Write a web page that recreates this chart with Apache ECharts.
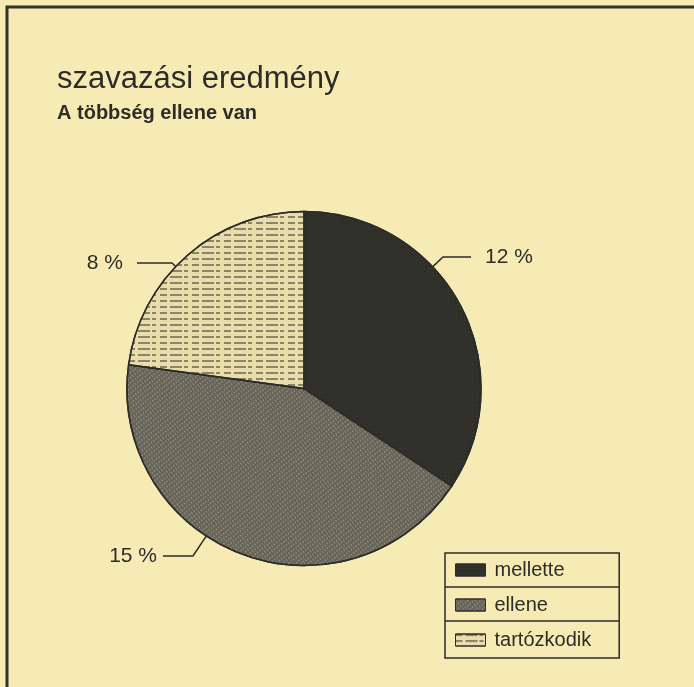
<!DOCTYPE html>
<html>
<head>
<meta charset="utf-8">
<script src="https://cdn.jsdelivr.net/npm/echarts@6/dist/echarts.min.js"></script>
<style>
  html, body { margin: 0; padding: 0; background: #f6eab5; }
  #chart { width: 694px; height: 687px; }
</style>
</head>
<body>
<div id="chart"></div>
<script>
// ---- data ----
const categories = ['mellette', 'ellene', 'tartózkodik'];
const values = [12, 15, 8];
const titleText = 'szavazási eredmény';
const subtitleText = 'A többség ellene van';

// ---- styles (not data) ----
const INK = '#2c2c28';
const PIE_CENTER = [304, 388.5];
const PIE_RADIUS = 177;
const sliceColors = ['#30302b', '#67645a', '#e9ddab'];
const sliceDecals = [
  { symbol: 'rect', symbolSize: 0.6, color: 'rgba(190,185,160,0.28)', dashArrayX: [[1, 3]], dashArrayY: [1, 3], rotation: 0 },
  { symbol: 'rect', symbolSize: 0.8, color: 'rgba(225,218,180,0.5)', dashArrayX: [[2, 2]], dashArrayY: [1, 2], rotation: 0.9 },
  { symbol: 'rect', symbolSize: 1, color: 'rgba(60,58,50,0.55)', dashArrayX: [[7, 3, 12, 2, 4, 4]], dashArrayY: [1.5, 3.5], rotation: 0 }
];
const labelPlace = [
  { x: 471, y: 257, align: 'left',  padding: [0, 0, 0, 14], len2: 28 },
  { x: 163, y: 556, align: 'right', padding: [0, 6, 0, 0],  len2: 30 },
  { x: 137, y: 263, align: 'right', padding: [0, 14, 0, 0], len2: 35 }
];

function guidePoints(s) {
  const dir = s.align === 'left' ? -1 : 1;
  const end = [s.x, s.y];
  const bend = [s.x + dir * s.len2, s.y];
  const dx = bend[0] - PIE_CENTER[0], dy = bend[1] - PIE_CENTER[1];
  const d = Math.sqrt(dx * dx + dy * dy);
  const attach = [PIE_CENTER[0] + PIE_RADIUS * dx / d, PIE_CENTER[1] + PIE_RADIUS * dy / d];
  return [attach, bend, end];
}

const chart = echarts.init(document.getElementById('chart'), null, { renderer: 'canvas' });

const pieData = categories.map((name, i) => ({
  name: name,
  value: values[i],
  itemStyle: { color: sliceColors[i], decal: sliceDecals[i] },
  label: { padding: labelPlace[i].padding },
  labelLine: { length: 8, length2: labelPlace[i].len2 }
}));

chart.setOption({
  backgroundColor: '#f6eab5',
  animation: false,
  title: {
    text: titleText,
    subtext: subtitleText,
    left: 57,
    top: 64,
    padding: 0,
    itemGap: 8,
    textStyle: { fontFamily: 'Liberation Sans', fontSize: 31, fontWeight: 'normal', color: INK },
    subtextStyle: { fontFamily: 'Liberation Sans', fontSize: 20, fontWeight: 'bold', color: INK }
  },
  legend: {
    orient: 'vertical',
    left: 445,
    top: 553,
    padding: [7, 28, 8, 10],
    itemGap: 15,
    itemWidth: 30,
    itemHeight: 12,
    icon: 'rect',
    borderColor: INK,
    borderWidth: 1.5,
    borderRadius: 0,
    textStyle: { fontFamily: 'Liberation Sans', fontSize: 20, color: INK, padding: [0, 0, 0, 4] },
    itemStyle: { borderColor: INK, borderWidth: 1 },
    data: categories
  },
  graphic: [
    { type: 'rect', silent: true, shape: { x: 7, y: 7, width: 800, height: 800 },
      style: { fill: 'none', stroke: '#33332e', lineWidth: 3 } },
    { type: 'line', silent: true, shape: { x1: 445, y1: 587, x2: 619, y2: 587 },
      style: { stroke: INK, lineWidth: 1.5 } },
    { type: 'line', silent: true, shape: { x1: 445, y1: 621, x2: 619, y2: 621 },
      style: { stroke: INK, lineWidth: 1.5 } }
  ],
  series: [{
    type: 'pie',
    center: PIE_CENTER,
    radius: PIE_RADIUS,
    startAngle: 90,
    clockwise: true,
    avoidLabelOverlap: false,
    itemStyle: { borderColor: INK, borderWidth: 1.5 },
    label: {
      show: true,
      position: 'outside',
      formatter: '{c} %',
      fontFamily: 'Liberation Sans',
      fontSize: 21,
      color: INK
    },
    labelLine: { show: true, lineStyle: { color: INK, width: 1.5 }, smooth: false },
    labelLayout: function (p) {
      const s = labelPlace[p.dataIndex];
      return { x: s.x, y: s.y, align: s.align, verticalAlign: 'middle', labelLinePoints: guidePoints(s) };
    },
    emphasis: { disabled: true },
    data: pieData
  }]
});
</script>
</body>
</html>
